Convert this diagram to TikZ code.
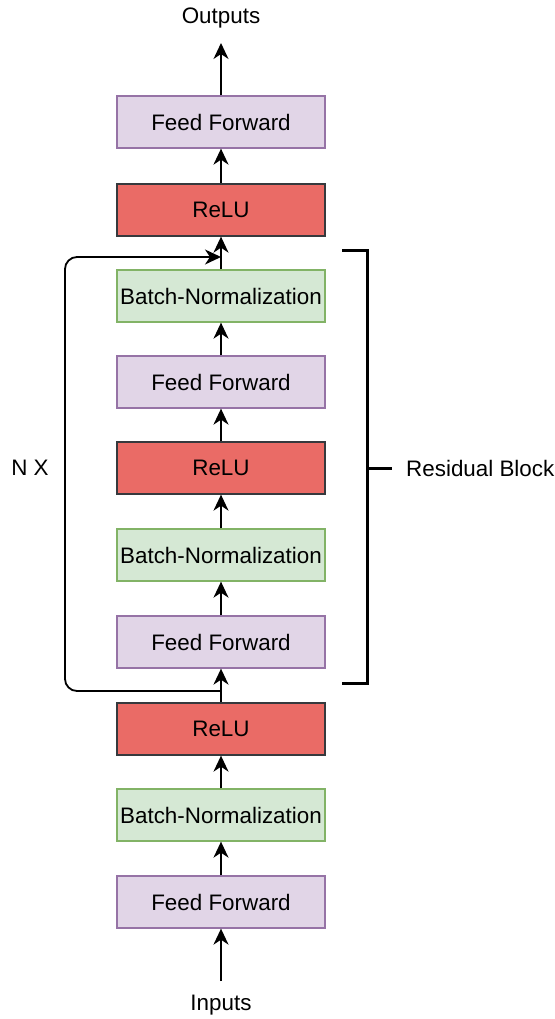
\documentclass[tikz,border=0pt]{standalone}
\usepackage{fontspec}
\setmainfont{Liberation Sans}
\usetikzlibrary{arrows.meta}
\definecolor{ffFill}{HTML}{E1D5E7}
\definecolor{ffLine}{HTML}{9673A6}
\definecolor{bnFill}{HTML}{D5E8D4}
\definecolor{bnLine}{HTML}{82B366}
\definecolor{reFill}{HTML}{EA6B66}
\definecolor{reLine}{HTML}{36393D}
\tikzset{
  blk/.style={minimum width=208pt, minimum height=52pt, inner sep=0pt, line width=1.3pt,
    font=\fontsize{22.4}{26}\selectfont},
  ffbox/.style={blk, fill=ffFill, draw=ffLine},
  bnbox/.style={blk, fill=bnFill, draw=bnLine},
  rebox/.style={blk, fill=reFill, draw=reLine},
  lbl/.style={font=\fontsize{22.4}{26}\selectfont, inner sep=0pt},
  flow/.style={line width=1.8pt, -{Stealth[length=16pt,width=15pt,inset=5pt]}},
  brk/.style={line width=3pt}
}
\begin{document}
\begin{tikzpicture}[x=1pt,y=-1pt]
\useasboundingbox (0,0) rectangle (554,1019);
% main stack of layers, bottom to top
\node[ffbox] (ff0) at (221,902) {Feed Forward};
\node[bnbox] (bn0) at (221,815) {Batch-Normalization};
\node[rebox] (re0) at (221,729) {ReLU};
\node[ffbox] (ff1) at (221,642) {Feed Forward};
\node[bnbox] (bn1) at (221,555) {Batch-Normalization};
\node[rebox] (re1) at (221,468) {ReLU};
\node[ffbox] (ff2) at (221,382) {Feed Forward};
\node[bnbox] (bn2) at (221,296) {Batch-Normalization};
\node[rebox] (re2) at (221,210) {ReLU};
\node[ffbox] (ff3) at (221,122) {Feed Forward};
% input and output labels
\node[lbl] (in) at (221,1005) {Inputs};
\node[lbl] (out) at (221,18) {Outputs};
\coordinate (inTail) at (221,981);
\coordinate (outTip) at (221,43);
% forward connections
\draw[flow] (inTail) -- (ff0.south);
\draw[flow] (ff0.north) -- (bn0.south);
\draw[flow] (bn0.north) -- (re0.south);
\draw[flow] (re0.north) -- (ff1.south);
\draw[flow] (ff1.north) -- (bn1.south);
\draw[flow] (bn1.north) -- (re1.south);
\draw[flow] (re1.north) -- (ff2.south);
\draw[flow] (ff2.north) -- (bn2.south);
\draw[flow] (bn2.north) -- (re2.south);
\draw[flow] (re2.north) -- (ff3.south);
\draw[flow] (ff3.north) -- (outTip);
% skip connection around the residual block
\coordinate (split) at (221,691);
\coordinate (merge) at (221,257);
\draw[flow, rounded corners=12pt] (split) -- (65,691) -- (65,257) -- (merge);
\node[lbl] (nx) at (30,468) {N X};
% bracket marking the residual block
\draw[brk] (342,250) -- (367,250) -- (367,683) -- (342,683);
\draw[brk] (367,468) -- (392,468);
\node[lbl, anchor=west] (res) at (406,468) {Residual Block};
\end{tikzpicture}
\end{document}
